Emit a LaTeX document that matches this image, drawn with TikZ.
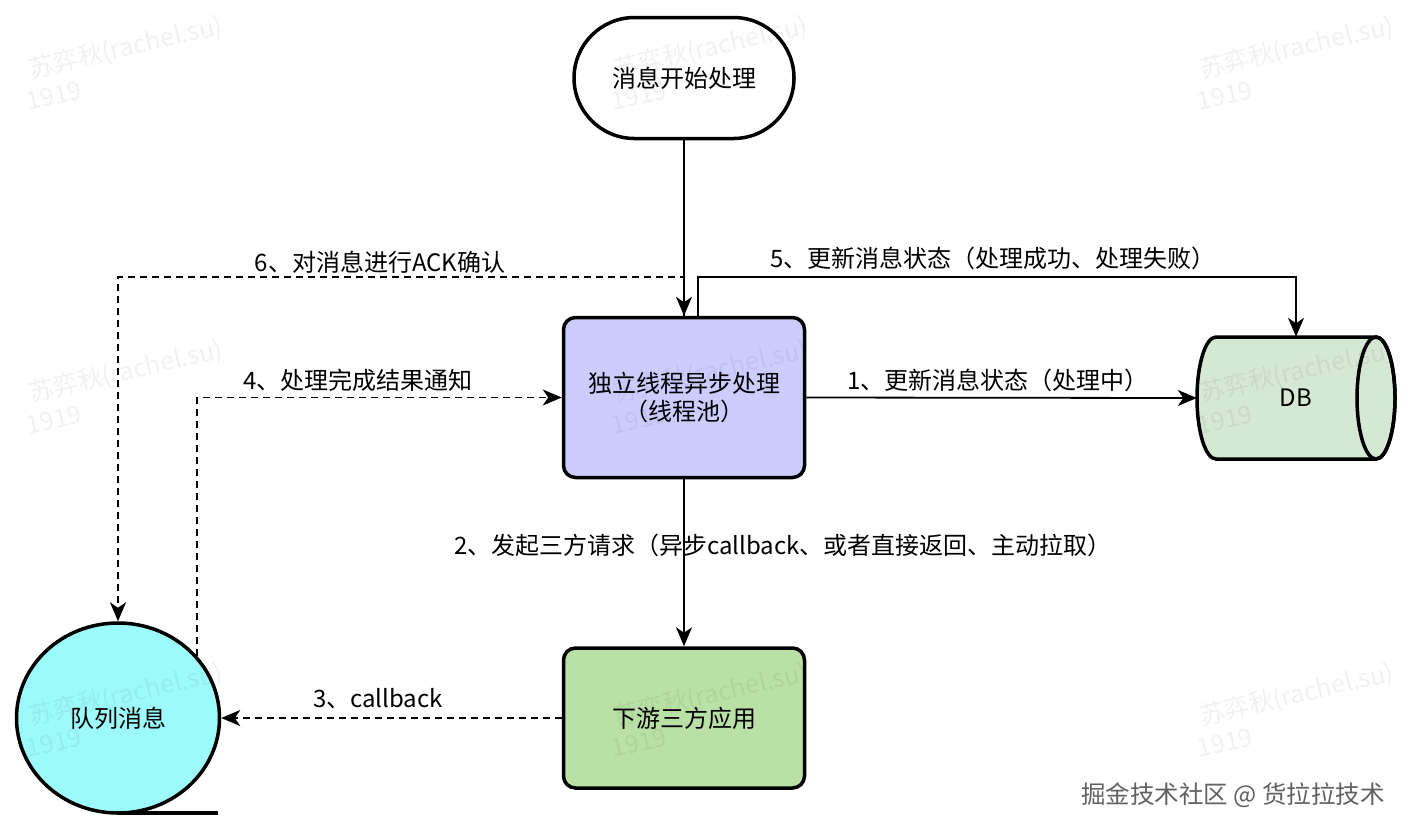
\documentclass[tikz,border=0pt]{standalone}
\usepackage{fontspec}
\setmainfont{Noto Sans CJK SC}
\usetikzlibrary{arrows.meta,shapes.geometric,shapes.misc}
\definecolor{procfill}{HTML}{CCCCFF}
\definecolor{downfill}{HTML}{B9E0A5}
\definecolor{dbfill}{HTML}{D5E8D4}
\definecolor{qfill}{HTML}{9DFAFA}
\begin{document}
\begin{tikzpicture}[x=1pt,y=-1pt,
  every node/.style={font=\fontsize{24}{28}\selectfont, inner sep=0pt},
  shapeline/.style={draw, line width=3.5pt},
  box/.style={shapeline, rounded corners=12pt, minimum width=241pt, minimum height=160pt, align=center},
  arr/.style={line width=1.8pt, -{Stealth[length=19pt,width=16pt,inset=5.5pt]}},
  darr/.style={arr, dash pattern=on 7pt off 5pt},
  wm/.style={text=black, opacity=0.055, rotate=13, font=\fontsize{25}{28}\selectfont},
]
\useasboundingbox[fill=white] (0,0) rectangle (1412,831);

% nodes
\node[shapeline, rounded rectangle, fill=white, minimum width=220pt, minimum height=121pt] (start) at (684,78) {消息开始处理};
\node[box, fill=procfill] (proc) at (684,397.5) {独立线程异步处理\\（线程池）};
\node[box, fill=downfill, minimum height=140pt] (down) at (684,718) {下游三方应用};
\node[shapeline, ellipse, fill=qfill, minimum width=203pt, minimum height=190pt] (q) at (118,718) {队列消息};
\draw[line width=3.5pt] ([yshift=1.75pt]q.south) -- ++(100,0);

% DB cylinder
\path[shapeline, fill=dbfill] (1216,337) -- (1376,337)
  arc[start angle=90, end angle=-90, x radius=19pt, y radius=61pt]
  -- (1216,459)
  arc[start angle=270, end angle=90, x radius=19pt, y radius=61pt] -- cycle;
\draw[line width=3.5pt] (1376,398) ellipse [x radius=19pt, y radius=61pt];
\node[minimum width=198pt, minimum height=122pt] (db) at (1296,398) {DB};

% connectors
\draw[arr] (start.south) -- (proc.north);
\draw[arr] ([xshift=14pt]proc.north) -- ++(0,-39) -| (db.north);
\draw[darr] (proc.north) -- ++(0,-39) -| (q.north);
\draw[darr] (q.38) |- (proc.west);
\draw[arr] (proc.east) -- (db.west);
\draw[arr] (proc.south) -- (down.north);
\draw[darr] (down.west) -- (q.east);

% labels
\node (l6) at (380,262) {6、对消息进行ACK确认};
\node (l5) at (993,258) {5、更新消息状态（处理成功、处理失败）};
\node (l4) at (358,380) {4、处理完成结果通知};
\node (l1) at (998,380) {1、更新消息状态（处理中）};
\node (l2) at (783,545) {2、发起三方请求（异步callback、或者直接返回、主动拉取）};
\node (l3) at (378,699) {3、callback};

% watermarks
\foreach \wx in {126,711,1297}{
  \foreach \wy in {48,372,695}{
    \node[wm] at (\wx,\wy) {苏弈秋(rachel.su)};
    \node[wm] at (\wx-72,\wy+48) {1919};
  }
}
\node[text=black!62, font=\fontsize{24.5}{28}\selectfont] (credit) at (1233,795) {掘金技术社区 @ 货拉拉技术};
\end{tikzpicture}
\end{document}
